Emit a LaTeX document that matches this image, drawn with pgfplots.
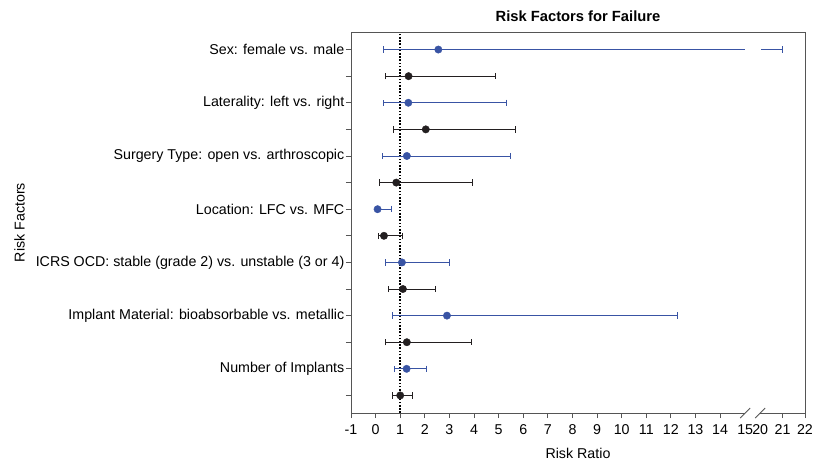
\documentclass[border=0pt]{standalone}
\usepackage{fontspec}
\setmainfont{Liberation Sans}
\usepackage{pgfplots}
\usepackage{pgfplotstable}
\pgfplotsset{compat=1.18}
\definecolor{fblue}{RGB}{57,84,164}
\definecolor{fblack}{RGB}{35,31,32}
\definecolor{axgray}{RGB}{85,85,85}

% y = 15 - row (row 1 = Sex at top); CI limits as read
\pgfplotstableread{
row est lo hi
12 1.33 0.31 5.32
10 1.27 0.28 5.49
8  0.08 0.05 0.64
6  1.07 0.38 2.99
4  2.90 0.68 12.28
2  1.26 0.77 2.06
}\bluedata
\pgfplotstableread{
row est lo hi
13 1.34 0.38 4.85
11 2.04 0.73 5.68
9  0.84 0.17 3.93
7  0.34 0.13 1.07
5  1.11 0.53 2.42
3  1.27 0.39 3.90
1  1.00 0.69 1.48
}\blackdata

\begin{document}
\begin{tikzpicture}
\path[use as bounding box] (-351bp,-52bp) rectangle (462bp,413bp);
\begin{axis}[
  at={(0,0)}, anchor=south west,
  scale only axis, width=454bp, height=381bp,
  xmin=-1, xmax=17.45, ymin=0.34, ymax=14.66,
  clip=false,
  axis line style={draw=none},
  xtick={-1,0,1,2,3,4,5,6,7,8,9,10,11,12,13,14,16.54,17.45},
  xticklabels={-1,0,1,2,3,4,5,6,7,8,9,10,11,12,13,14,21,22},
  extra x ticks={15.02,15.63},
  extra x tick labels={15,20},
  extra x tick style={major tick length=0pt, xticklabel style={yshift=-5bp}},
  ytick={1,2,3,4,5,6,7,8,9,10,11,12,13,14},
  yticklabels={,Number of Implants,,Implant Material: bioabsorbable vs. metallic,,ICRS OCD: stable (grade 2) vs. unstable (3 or 4),,Location: LFC vs. MFC,,Surgery Type: open vs. arthroscopic,,Laterality: left vs. right,,Sex: female vs. male},
  tick align=outside, xtick pos=bottom, ytick pos=left,
  major tick length=5bp,
  tick style={axgray, line width=0.8bp},
  ticklabel style={font=\fontsize{14.3}{16}\selectfont},
  yticklabel style={inner sep=1.5bp},
  xticklabel style={yshift=-3bp},
  xlabel={Risk Ratio}, ylabel={Risk Factors},
  label style={font=\fontsize{14.3}{16}\selectfont},
  xlabel style={at={(rel axis cs:0.5,0)}, anchor=north, yshift=-32bp},
  ylabel shift=6bp,
  title={Risk Factors for Failure},
  title style={font=\fontsize{14.8}{17}\selectfont\bfseries, yshift=1bp},
]
% reference line
\addplot[black, line width=1.6bp, dash pattern=on 1.6bp off 1.6bp] coordinates {(1,0.34) (1,14.66)};

% Sex row (broken upper CI at 21)
\addplot[fblue, line width=0.8bp] coordinates {(0.31,14) (15,14)};
\addplot[fblue, line width=0.8bp] coordinates {(15.68,14) (16.53,14)};
\addplot[fblue, only marks, mark=|, mark size=3.2bp, mark options={line width=0.8bp}] coordinates {(0.31,14) (16.53,14)};
\addplot[only marks, mark=*, mark size=3.7bp, mark options={fill=fblue, draw=fblue}] coordinates {(2.55,14)};

% blue rows
\addplot[only marks, mark=*, mark size=3.7bp, mark options={fill=fblue, draw=fblue},
  error bars/.cd, x dir=both, x explicit,
  error bar style={line width=0.8bp, fblue},
  error mark options={rotate=90, mark size=3.2bp, line width=0.8bp, fblue}]
  table[x=est, y=row, x error plus expr=\thisrow{hi}-\thisrow{est}, x error minus expr=\thisrow{est}-\thisrow{lo}] {\bluedata};

% black rows
\addplot[only marks, mark=*, mark size=3.7bp, mark options={fill=fblack, draw=fblack},
  error bars/.cd, x dir=both, x explicit,
  error bar style={line width=0.8bp, fblack},
  error mark options={rotate=90, mark size=3.2bp, line width=0.8bp, fblack}]
  table[x=est, y=row, x error plus expr=\thisrow{hi}-\thisrow{est}, x error minus expr=\thisrow{est}-\thisrow{lo}] {\blackdata};

% frame with axis break
\draw[axgray, line width=0.8bp] (axis cs:15.02,0.34) -- (rel axis cs:0,0) -- (rel axis cs:0,1) -- (rel axis cs:1,1) -- (rel axis cs:1,0) -- (axis cs:15.63,0.34);
\draw[axgray, line width=0.8bp] (axis cs:15.02,0.34) ++(-5bp,-5bp) -- ++(10bp,10bp);
\draw[axgray, line width=0.8bp] (axis cs:15.63,0.34) ++(-5bp,-5bp) -- ++(10bp,10bp);
\end{axis}
\end{tikzpicture}
\end{document}
